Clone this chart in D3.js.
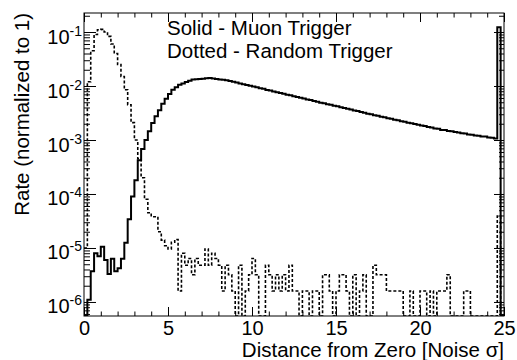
<!DOCTYPE html>
<html>
<head>
<meta charset="utf-8">
<script src="https://cdn.jsdelivr.net/npm/d3@7"></script>
<style>
body{margin:0;background:#fff;}
svg{display:block;font-family:"Liberation Sans",Arial,Helvetica,sans-serif;}
</style>
</head>
<body>
<svg id="chart" width="517" height="360"></svg>
<script>
// histogram binning: 125 bins of 0.2 sigma from 0 to 25
const nBins = 125
const xLow = 0, xHigh = 25

// muon trigger (solid), normalized to 1
const muon = [
  0, 1.1e-6, 3.7e-6, 8.0e-6, 7.0e-6, 1.05e-5, 6.0e-6, 3.3e-6, 6.3e-6, 3.7e-6,
  4.2e-6, 6.3e-6, 1.25e-5, 3.4e-5, 9.0e-5, 1.8e-4, 4.2e-4, 6.8e-4, 1.0e-3, 1.45e-3,
  2.07e-3, 2.74e-3, 3.54e-3, 4.67e-3, 5.82e-3, 7.13e-3, 8.57e-3, 9.48e-3, 0.0105, 0.01114,
  0.01183, 0.01256, 0.01324, 0.0134, 0.01355, 0.0137, 0.01387, 0.0140, 0.01374, 0.0135,
  0.01324, 0.0130, 0.0128, 0.01236, 0.01195, 0.01156, 0.01117, 0.01081, 0.01047, 0.01012,
  0.00977, 0.00944, 0.00912, 0.00885, 0.00848, 0.00824, 0.00790, 0.00770, 0.00741, 0.00720,
  0.00690, 0.00672, 0.00645, 0.00628, 0.00603, 0.00587, 0.00563, 0.00548, 0.00526, 0.00513,
  0.00492, 0.00480, 0.00461, 0.00450, 0.00432, 0.00421, 0.00404, 0.00393, 0.00378, 0.00367,
  0.00352, 0.00343, 0.00329, 0.00320, 0.00307, 0.00299, 0.00287, 0.00280, 0.00270, 0.00263,
  0.00253, 0.00247, 0.00237, 0.00232, 0.00222, 0.00218, 0.00209, 0.00205, 0.00197, 0.00192,
  0.00185, 0.00181, 0.00174, 0.00170, 0.00163, 0.00161, 0.00154, 0.00153, 0.00147, 0.00145,
  0.00140, 0.00138, 0.00133, 0.00132, 0.00127, 0.00125, 0.00121, 0.00120, 0.00116, 0.00116,
  0.00111, 0.00110, 0.00107, 0.122, 0
]

// random trigger (dotted), normalized to 1
const random = [
  1.0e-5, 0.012, 0.045, 0.09, 0.11, 0.112, 0.10, 0.083, 0.06, 0.04,
  0.025, 0.015, 0.0085, 0.0045, 0.0021, 0.001, 4.5e-4, 2.0e-4, 8.0e-5, 4.5e-5,
  3.8e-5, 3.8e-5, 2.0e-5, 1.4e-5, 1.1e-5, 9.6e-6, 1.28e-5, 1.44e-5, 1.6e-6, 8.0e-6,
  4.8e-6, 6.4e-6, 3.2e-6, 6.4e-6, 4.8e-6, 4.8e-6, 9.6e-6, 4.8e-6, 8.0e-6, 6.4e-6,
  4.8e-6, 1.6e-6, 4.8e-6, 3.2e-6, 1.6e-6, 0, 4.8e-6, 0, 1.6e-6, 3.2e-6,
  6.4e-6, 3.2e-6, 0, 0, 4.8e-6, 3.2e-6, 1.6e-6, 3.2e-6, 1.6e-6, 3.2e-6,
  1.6e-6, 4.8e-6, 1.6e-6, 1.6e-6, 0, 1.6e-6, 1.6e-6, 0, 1.6e-6, 1.6e-6,
  0, 3.2e-6, 3.2e-6, 1.6e-6, 0, 1.6e-6, 3.2e-6, 3.2e-6, 1.6e-6, 0,
  3.2e-6, 0, 1.6e-6, 3.2e-6, 0, 0, 4.8e-6, 3.2e-6, 3.2e-6, 3.2e-6,
  1.6e-6, 1.6e-6, 1.6e-6, 1.6e-6, 1.6e-6, 0, 0, 1.6e-6, 0, 0,
  1.6e-6, 1.6e-6, 0, 1.6e-6, 0, 1.6e-6, 1.6e-6, 1.6e-6, 3.2e-6, 0,
  0, 0, 0, 1.6e-6, 1.6e-6, 0, 0, 0, 0, 0,
  0, 0, 0, 3.9e-5, 0
]

const xTicks = [0, 5, 10, 15, 20, 25]
const yDecades = [-6, -5, -4, -3, -2, -1]
const legendLines = ["Solid - Muon Trigger", "Dotted - Random Trigger"]
const xTitle = "Distance from Zero [Noise \u03c3]"
const yTitle = "Rate (normalized to 1)"

const frame = {left: 84, right: 504, top: 13, bottom: 316}
const yMin = 5.5e-7, yMax = 0.225
const fontSize = 20

const svg = d3.select("#chart")
svg.append("rect").attr("width", 517).attr("height", 360).attr("fill", "#fff")

const x = d3.scaleLinear().domain([xLow, xHigh]).range([frame.left, frame.right])
const y = d3.scaleLog().domain([yMin, yMax]).range([frame.bottom, frame.top])

const binW = (xHigh - xLow) / nBins
const edges = d3.range(nBins + 1).map(i => xLow + i * binW)

function histPoints(vals){
    const pts = vals.map((v, i) => [edges[i], v])
    pts.push([edges[nBins], vals[nBins - 1]])
    return pts
}

const line = d3.line()
    .curve(d3.curveStepAfter)
    .x(d => x(d[0]))
    .y(d => d[1] > 0 ? y(d[1]) : y(yMin))

svg.append("clipPath").attr("id", "clip")
    .append("rect")
    .attr("x", frame.left).attr("y", frame.top)
    .attr("width", frame.right - frame.left).attr("height", frame.bottom - frame.top)

const plot = svg.append("g").attr("clip-path", "url(#clip)")

plot.append("path")
    .attr("d", line(histPoints(random)))
    .attr("fill", "none")
    .attr("stroke", "#000")
    .attr("stroke-width", 1.6)
    .attr("stroke-dasharray", "3,2")

plot.append("path")
    .attr("d", line(histPoints(muon)))
    .attr("fill", "none")
    .attr("stroke", "#000")
    .attr("stroke-width", 2)

// axes (ticks drawn inward, ROOT style)
const minorX = d3.range(xLow, xHigh + 0.001, 1)
const majorY = yDecades.map(d => Math.pow(10, d))
const minorY = []
for (let k = -7; k <= -1; k++){
    for (let m = 2; m <= 9; m++){
        const v = m * Math.pow(10, k)
        if (v > yMin && v < yMax) minorY.push(v)
    }
}

function styleAxis(g){
    g.select(".domain").remove()
    g.selectAll("line").attr("stroke", "#000").attr("stroke-width", 1)
}

// bottom
svg.append("g").attr("transform", `translate(0,${frame.bottom})`)
    .call(d3.axisBottom(x).tickValues(minorX).tickSize(-4.5).tickFormat(""))
    .call(styleAxis)
const xb = svg.append("g").attr("transform", `translate(0,${frame.bottom})`)
    .call(d3.axisBottom(x).tickValues(xTicks).tickSize(-9).tickPadding(5).tickFormat(d3.format("d")))
    .call(styleAxis)
xb.selectAll("text").attr("font-size", fontSize).attr("font-family", "Liberation Sans, Arial, sans-serif").attr("fill", "#000")

// top
svg.append("g").attr("transform", `translate(0,${frame.top})`)
    .call(d3.axisTop(x).tickValues(minorX).tickSize(-4.5).tickFormat(""))
    .call(styleAxis)
svg.append("g").attr("transform", `translate(0,${frame.top})`)
    .call(d3.axisTop(x).tickValues(xTicks).tickSize(-9).tickFormat(""))
    .call(styleAxis)

// left
svg.append("g").attr("transform", `translate(${frame.left},0)`)
    .call(d3.axisLeft(y).tickValues(minorY).tickSize(-6).tickFormat(""))
    .call(styleAxis)
const yl = svg.append("g").attr("transform", `translate(${frame.left},0)`)
    .call(d3.axisLeft(y).tickValues(majorY).tickSize(-12).tickPadding(2).tickFormat(() => "10"))
    .call(styleAxis)
yl.selectAll("text")
    .attr("font-size", fontSize)
    .attr("font-family", "Liberation Sans, Arial, sans-serif")
    .attr("fill", "#000")
    .attr("dy", "0.55em")
    .append("tspan")
    .attr("font-size", 14)
    .attr("dy", -8)
    .text(d => String(Math.round(Math.log10(d))))

// right
svg.append("g").attr("transform", `translate(${frame.right},0)`)
    .call(d3.axisRight(y).tickValues(minorY).tickSize(-5).tickFormat(""))
    .call(styleAxis)
svg.append("g").attr("transform", `translate(${frame.right},0)`)
    .call(d3.axisRight(y).tickValues(majorY).tickSize(-10).tickFormat(""))
    .call(styleAxis)

// frame
svg.append("rect")
    .attr("x", frame.left).attr("y", frame.top)
    .attr("width", frame.right - frame.left).attr("height", frame.bottom - frame.top)
    .attr("fill", "none").attr("stroke", "#000").attr("stroke-width", 1)

// titles
svg.append("text")
    .attr("x", frame.right).attr("y", 357)
    .attr("text-anchor", "end")
    .attr("font-size", 20.5)
    .text(xTitle)

svg.append("text")
    .attr("transform", `translate(29,${frame.top}) rotate(-90)`)
    .attr("text-anchor", "end")
    .attr("font-size", 20.5)
    .text(yTitle)

// legend text
svg.selectAll(".legend").data(legendLines).join("text")
    .attr("class", "legend")
    .attr("x", 167)
    .attr("y", (d, i) => 35 + i * 23)
    .attr("font-size", 20.5)
    .text(d => d)
</script>
</body>
</html>
